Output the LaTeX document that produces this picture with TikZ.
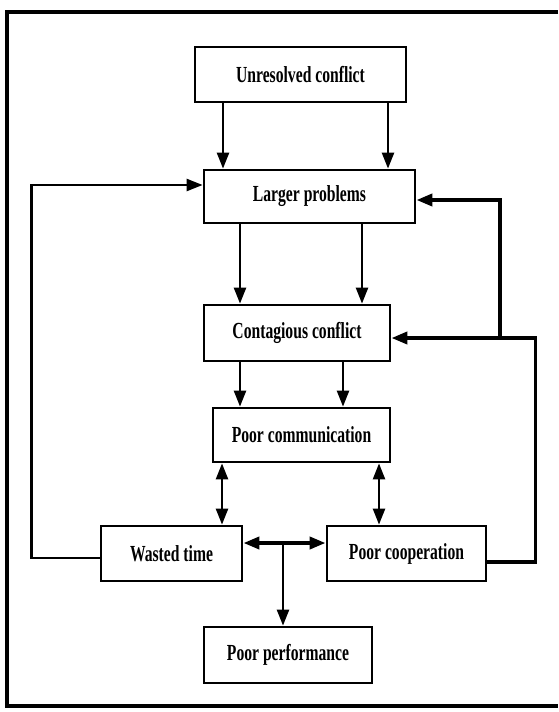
\documentclass[tikz,border=0pt]{standalone}
\usepackage{fontspec}
\setmainfont{Liberation Serif}
\newfontfamily\boxfont{Liberation Serif}[FakeStretch=0.68]
\usetikzlibrary{arrows.meta}
\begin{document}
\begin{tikzpicture}[x=1pt,y=-1pt,
    box/.style={draw,line width=2.8pt,inner sep=0pt,
      font=\boxfont\bfseries\fontsize{23}{25}\selectfont},
    link/.style={line width=2.5pt,-{Triangle[length=16pt,width=12pt]}},
    twoway/.style={line width=2.5pt,{Triangle[length=16pt,width=12pt]}-{Triangle[length=16pt,width=12pt]}},
    heavy/.style={line width=3.8pt}]
  \useasboundingbox (0,0) rectangle (558,712);
  % frame
  \draw[line width=4pt] (558,12) -- (7,12) -- (7,706) -- (558,706);
  \draw
    (300.5,74.5) node[box,minimum width=211pt,minimum height=55pt] (unres){Unresolved conflict}
    (309.5,196.5) node[box,minimum width=211pt,minimum height=53pt] (larger){Larger problems}
    (297,333) node[box,minimum width=186pt,minimum height=56pt] (contag){Contagious conflict}
    (301.5,435) node[box,minimum width=177pt,minimum height=54pt] (comm){Poor communication}
    (171.5,553.5) node[box,minimum width=141pt,minimum height=55pt] (wasted){Wasted time}
    (406.5,553.5) node[box,minimum width=159pt,minimum height=55pt] (coop){Poor cooperation}
    (288,655) node[box,minimum width=168pt,minimum height=56pt] (perf){Poor performance};
  \coordinate (hub) at (283,543);
  \coordinate (rjoin) at (500,338);
  \begin{scope}[link]
    \draw ([xshift=-77.5pt]unres.south) -- ([xshift=-77.5pt]unres.south |- larger.north);
    \draw ([xshift=87.5pt]unres.south) -- ([xshift=87.5pt]unres.south |- larger.north);
    \draw ([xshift=-69.5pt]larger.south) -- ([xshift=-69.5pt]larger.south |- contag.north);
    \draw ([xshift=52.5pt]larger.south) -- ([xshift=52.5pt]larger.south |- contag.north);
    \draw ([xshift=-57pt]contag.south) -- ([xshift=-57pt]contag.south |- comm.north);
    \draw ([xshift=46pt]contag.south) -- ([xshift=46pt]contag.south |- comm.north);
    \draw (hub) -- (hub |- perf.north);
    \draw ([yshift=-4.5pt]wasted.west) -- ++(-68,0) |- ([yshift=11.5pt]larger.west);
    \draw[heavy] ([yshift=-8.5pt]coop.east) -- ++(48,0) |- ([yshift=-5pt]contag.east);
    \draw[heavy] (rjoin) |- ([yshift=-3.5pt]larger.east);
  \end{scope}
  \begin{scope}[twoway]
    \draw ([xshift=-79.5pt]comm.south) -- ([xshift=-79.5pt]comm.south |- wasted.north);
    \draw ([xshift=77.5pt]comm.south) -- ([xshift=77.5pt]comm.south |- coop.north);
    \draw[heavy] ([yshift=10.5pt]wasted.east) -- ([yshift=10.5pt]wasted.east -| coop.west);
  \end{scope}
\end{tikzpicture}
\end{document}
